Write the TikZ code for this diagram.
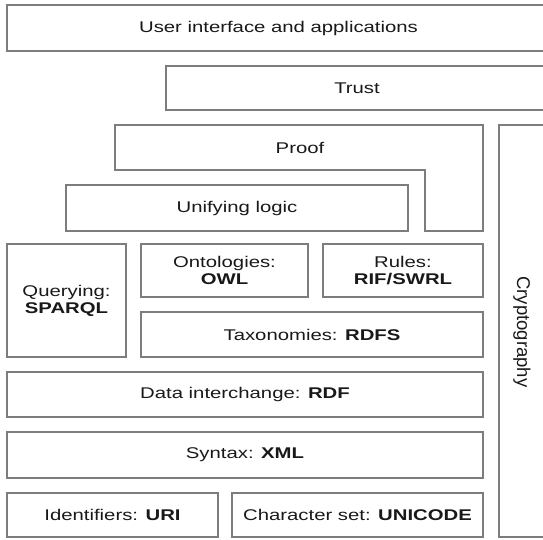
\documentclass[tikz,border=0pt]{standalone}
\usepackage{fontspec}
\setmainfont{Liberation Sans}[FakeStretch=1.31]
\newfontfamily\cryfont{Liberation Sans}
\definecolor{edgegray}{RGB}{125,125,125}
\definecolor{textblack}{RGB}{25,25,25}
\tikzset{
  layer/.style={draw=edgegray, line width=1.6pt, fill=white, inner sep=0pt, outer sep=0pt,
    anchor=north west, align=center, text=textblack, font=\fontsize{15.5}{17}\selectfont},
  lbl/.style={inner sep=0pt, align=center, text=textblack, font=\fontsize{15.5}{17}\selectfont}
}
\begin{document}
\begin{tikzpicture}[x=1pt,y=-1pt]
\useasboundingbox (0,0) rectangle (543,539);
\clip (0,0) rectangle (543,539);
% top layers (extend past the right edge)
\node[layer, minimum width=543pt, minimum height=46pt] (ui) at (7,5) {User interface and applications};
\node[layer, minimum width=382pt, minimum height=44pt] (trust) at (166,66) {Trust};
% proof (L-shaped)
\draw[draw=edgegray, line width=1.6pt, fill=white]
  (115,125) -- (483,125) -- (483,231) -- (425,231) -- (425,170) -- (115,170) -- cycle;
\node[lbl] (proof) at (300,147.5) {Proof};
% cryptography column
\node[layer, minimum width=46pt, minimum height=412pt] (crypto) at (499,125) {};
\node[inner sep=0pt, text=textblack, font=\cryfont\fontsize{18.5}{20}\selectfont, rotate=-90] (cryptotext) at (522,332) {Cryptography};
% unifying logic
\node[layer, minimum width=342pt, minimum height=46pt] (unify) at (66,185) {Unifying logic};
% querying, ontologies, rules, taxonomies
\node[layer, minimum width=119pt, minimum height=113pt] (query) at (7,244) {Querying:\\\textbf{SPARQL}};
\node[layer, minimum width=167pt, minimum height=53pt] (onto) at (141,244) {Ontologies:\\\textbf{OWL}};
\node[layer, minimum width=160pt, minimum height=53pt] (rules) at (323,244) {Rules:\\\textbf{RIF/SWRL}};
\node[layer, minimum width=342pt, minimum height=45pt] (tax) at (141,312) {Taxonomies: \textbf{RDFS}};
% data interchange, syntax
\node[layer, minimum width=476pt, minimum height=45pt] (data) at (7,372) {Data interchange: \textbf{RDF}};
\node[layer, minimum width=476pt, minimum height=46pt] (syntax) at (7,432) {Syntax: \textbf{XML}};
% identifiers, character set
\node[layer, minimum width=211pt, minimum height=44pt] (ident) at (7,493) {Identifiers: \textbf{URI}};
\node[layer, minimum width=251pt, minimum height=44pt] (charset) at (232,493) {Character set: \textbf{UNICODE}};
\end{tikzpicture}
\end{document}
